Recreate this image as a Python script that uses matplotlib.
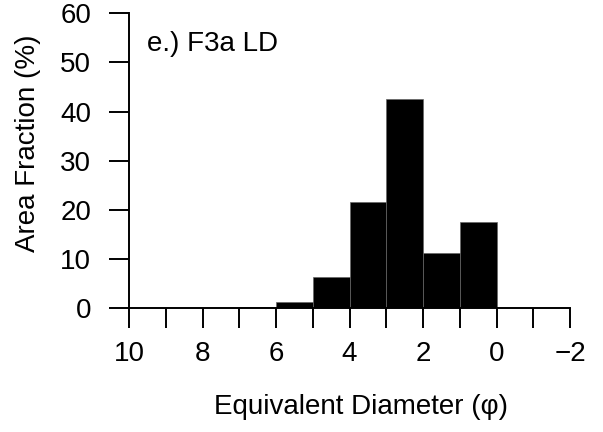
import matplotlib
matplotlib.use("Agg")
import matplotlib.pyplot as plt
import numpy as np

plt.rcParams['font.family'] = ['Liberation Sans', 'DejaVu Sans']

# size class edges in phi units and area fraction per class (%)
bin_edges = [10, 9, 8, 7, 6, 5, 4, 3, 2, 1, 0]
area_fraction = [0.0, 0.1, 0.1, 0.3, 1.2, 6.3, 21.6, 42.6, 11.2, 17.5]
xtick_values = [10, 8, 6, 4, 2, 0, -2]
xtick_labels = ["10", "8", "6", "4", "2", "0", "\u22122"]
ytick_values = [0, 10, 20, 30, 40, 50, 60]

fs = 20

fig = plt.figure(figsize=(6.03, 4.32), dpi=100)
ax = fig.add_axes([0.2144, 0.2863, 0.7308, 0.6829])

left = np.array(bin_edges[1:])
ax.bar(left, area_fraction, width=1.0, align='edge', color='black',
       edgecolor='#666666', linewidth=0.5)

ax.set_xlim(10, -2)
ax.set_ylim(0, 60)
ax.set_xticks(xtick_values)
ax.set_xticklabels(xtick_labels)
ax.set_xticks(np.arange(-2, 11, 1), minor=True)
ax.set_yticks(ytick_values)

for side in ['top', 'right']:
    ax.spines[side].set_visible(False)
for side in ['left', 'bottom']:
    ax.spines[side].set_linewidth(1.4)

ax.tick_params(axis='both', which='both', direction='out', length=14.5,
               width=1.4, labelsize=fs)
ax.tick_params(axis='x', which='major', pad=9)
ax.tick_params(axis='y', which='major', pad=13)

# axis titles placed in figure pixels
fig.text(28 / 603, 1 - 143 / 432, "Area Fraction (%)", fontsize=fs,
         rotation=90, ha='center', va='center')
fig.text(361 / 603, 1 - 407 / 432, "Equivalent Diameter (\u03c6)",
         fontsize=fs, ha='center', va='center')

ax.text(9.52, 53.7, "e.) F3a LD", fontsize=fs, ha='left', va='center')

fig.savefig("out.png", dpi=100)
